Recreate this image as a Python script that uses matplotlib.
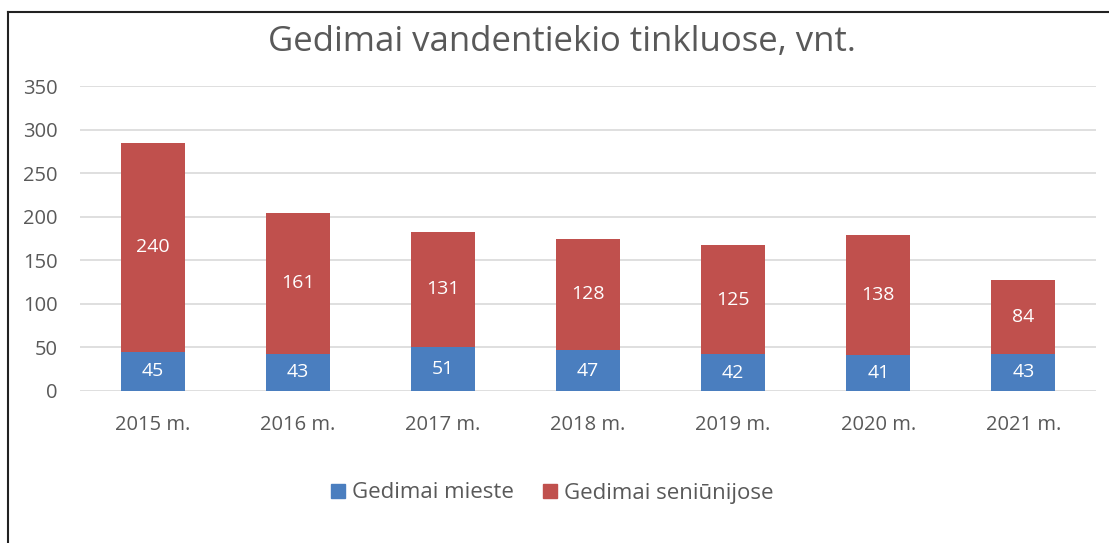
import matplotlib
matplotlib.use("Agg")
import matplotlib.pyplot as plt
from matplotlib.lines import Line2D
import numpy as np

categories = ["2015 m.", "2016 m.", "2017 m.", "2018 m.", "2019 m.", "2020 m.", "2021 m."]
mieste = [45, 43, 51, 47, 42, 41, 43]
seniunijose = [240, 161, 131, 128, 125, 138, 84]
yticks = [0, 50, 100, 150, 200, 250, 300, 350]

blue = "#4A7EBF"
red = "#C0504D"
txt = "#595959"

plt.rcParams["font.family"] = ["Open Sans", "DejaVu Sans"]

fig = plt.figure(figsize=(11.09, 5.43), dpi=100)
ax = fig.add_axes([80/1109, 1-391/543, 1016/1109, 305/543])

x = np.arange(len(categories))
w = 0.44
ax.bar(x, mieste, w, color=blue, label="Gedimai mieste", zorder=3)
ax.bar(x, seniunijose, w, bottom=mieste, color=red, label="Gedimai seniūnijose", zorder=3)

for i in range(len(x)):
    ax.text(x[i], mieste[i]/2, str(mieste[i]), ha="center", va="center", color="white", fontsize=14, zorder=4)
    ax.text(x[i], mieste[i] + seniunijose[i]/2, str(seniunijose[i]), ha="center", va="center", color="white", fontsize=14, zorder=4)

ax.set_xlim(-0.5, len(x)-0.5)
ax.set_ylim(0, 350)
ax.set_yticks(yticks)
ax.set_xticks(x)
ax.set_xticklabels(categories)
ax.tick_params(axis="both", length=0, colors=txt, labelsize=14.5)
ax.tick_params(axis="x", pad=17)
ax.tick_params(axis="y", pad=16)
for s in ax.spines.values():
    s.set_visible(False)
ax.yaxis.grid(True, color="#D9D9D9", linewidth=1.2, zorder=0)
ax.set_axisbelow(True)

fig.text(0.507, 1-42/543, "Gedimai vandentiekio tinkluose, vnt.", ha="center", va="center", fontsize=25, color=txt)

handles = [Line2D([], [], marker="s", linestyle="none", markersize=10, color=blue),
           Line2D([], [], marker="s", linestyle="none", markersize=10, color=red)]
fig.legend(handles, ["Gedimai mieste", "Gedimai seniūnijose"], loc="center", bbox_to_anchor=(0.497, 1-493/543),
           ncol=2, frameon=False, fontsize=16, labelcolor=txt, handletextpad=0.25, columnspacing=1.2, handlelength=0.8)

fig.add_artist(Line2D([8/1109, 8/1109], [0, 1-12/543], color="#222222", linewidth=1.5, transform=fig.transFigure))
fig.add_artist(Line2D([8/1109, 1], [1-12/543, 1-12/543], color="#222222", linewidth=1.5, transform=fig.transFigure))

fig.savefig("out.png", dpi=100, facecolor="white")
